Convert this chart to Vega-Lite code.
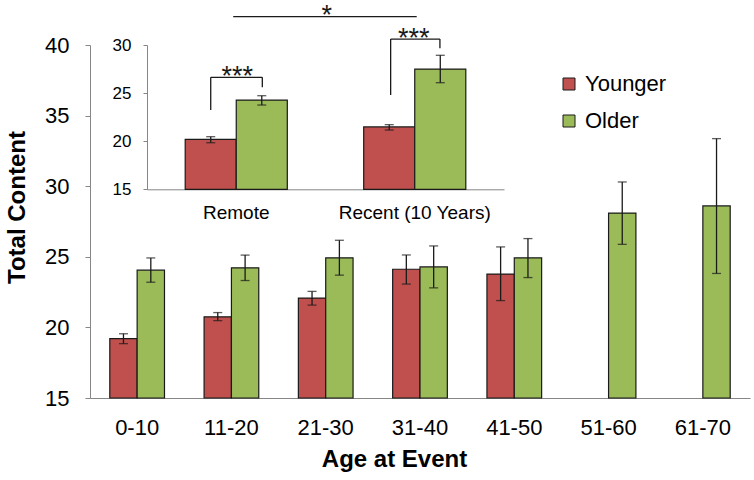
{
  "$schema": "https://vega.github.io/schema/vega-lite/v6.json",
  "width": 660,
  "height": 353,
  "autosize": {"type": "none"},
  "padding": {"left": 90, "top": 45, "right": 4, "bottom": 82},
  "background": "white",
  "config": {
    "font": "Liberation Sans",
    "view": {"stroke": null},
    "axis": {"domainColor": "#868686", "tickColor": "#868686", "labelColor": "#000", "titleColor": "#000", "grid": false, "labelFont": "Liberation Sans", "titleFont": "Liberation Sans"}
  },
  "datasets": {
    "main": [
      {"cat": "0-10", "grp": "Younger", "v": 19.2, "lo": 18.85, "hi": 19.55},
      {"cat": "0-10", "grp": "Older", "v": 24.05, "lo": 23.2, "hi": 24.92},
      {"cat": "11-20", "grp": "Younger", "v": 20.75, "lo": 20.48, "hi": 21.05},
      {"cat": "11-20", "grp": "Older", "v": 24.22, "lo": 23.32, "hi": 25.12},
      {"cat": "21-30", "grp": "Younger", "v": 22.08, "lo": 21.58, "hi": 22.55},
      {"cat": "21-30", "grp": "Older", "v": 24.93, "lo": 23.7, "hi": 26.17},
      {"cat": "31-40", "grp": "Younger", "v": 24.12, "lo": 23.07, "hi": 25.13},
      {"cat": "31-40", "grp": "Older", "v": 24.28, "lo": 22.8, "hi": 25.77},
      {"cat": "41-50", "grp": "Younger", "v": 23.78, "lo": 21.9, "hi": 25.7},
      {"cat": "41-50", "grp": "Older", "v": 24.93, "lo": 23.53, "hi": 26.29},
      {"cat": "51-60", "grp": "Older", "v": 28.1, "lo": 25.88, "hi": 30.3},
      {"cat": "61-70", "grp": "Older", "v": 28.6, "lo": 23.82, "hi": 33.37}
    ],
    "inset": [
      {"cat": "Remote", "grp": "Younger", "v": 20.2, "lo": 19.84, "hi": 20.47},
      {"cat": "Remote", "grp": "Older", "v": 24.28, "lo": 23.76, "hi": 24.73},
      {"cat": "Recent (10 Years)", "grp": "Younger", "v": 21.48, "lo": 21.16, "hi": 21.72},
      {"cat": "Recent (10 Years)", "grp": "Older", "v": 27.5, "lo": 26.08, "hi": 28.93}
    ],
    "segs": [
      {"x": 0.357, "x2": 0.357, "y": 23.24, "y2": 26.64},
      {"x": 0.357, "x2": 0.646, "y": 26.64, "y2": 26.64},
      {"x": 0.646, "x2": 0.646, "y": 26.64, "y2": 25.6},
      {"x": 1.365, "x2": 1.365, "y": 24.8, "y2": 30.62},
      {"x": 1.365, "x2": 1.641, "y": 30.62, "y2": 30.62},
      {"x": 1.641, "x2": 1.641, "y": 30.62, "y2": 29.66},
      {"x": 0.483, "x2": 1.511, "y": 32.94, "y2": 32.94}
    ],
    "stars": [
      {"x": 0.506, "y": 25.82, "label": "***"},
      {"x": 1.494, "y": 29.79, "label": "***"},
      {"x": 1.007, "y": 32.2, "label": "*"}
    ]
  },
  "layer": [
    {
      "data": {"name": "main"},
      "layer": [
        {
          "mark": {"type": "bar", "stroke": "#1a1a1a", "strokeWidth": 1.2},
          "encoding": {
            "x": {"field": "cat", "type": "nominal", "sort": null,
              "scale": {"paddingInner": 0.42, "paddingOuter": 0.21},
              "axis": {"orient": "bottom", "labelAngle": 0, "ticks": false, "tickSize": 0, "labelPadding": 19, "labelFontSize": 22,
                "title": "Age at Event", "titleFontSize": 24, "titleFontWeight": "bold", "titleX": 304, "titleY": 68.7, "titleBaseline": "alphabetic", "titleAlign": "center"}},
            "xOffset": {"field": "grp", "type": "nominal", "sort": ["Younger", "Older"]},
            "y": {"field": "v", "type": "quantitative",
              "scale": {"domain": [15, 40], "nice": false, "zero": false},
              "axis": {"orient": "left", "values": [15, 20, 25, 30, 35, 40], "tickSize": 5, "labelPadding": 16, "labelFontSize": 22,
                "title": "Total Content", "titleFontSize": 24, "titleFontWeight": "bold", "titleX": -66, "titleY": 162, "titleAngle": 270, "titleBaseline": "alphabetic", "titleAlign": "center"}},
            "y2": {"datum": 15},
            "color": {"field": "grp", "type": "nominal",
              "scale": {"domain": ["Younger", "Older"], "range": ["#C0504D", "#9BBB59"]},
              "legend": {"orient": "none", "legendX": 468, "legendY": 28, "direction": "vertical", "title": null, "padding": 0,
                "symbolType": "square", "symbolSize": 144, "symbolStrokeColor": "#333", "symbolStrokeWidth": 1, "symbolOpacity": 1,
                "labelFontSize": 22, "labelOffset": 5, "rowPadding": 15, "labelColor": "#000"}}
          }
        },
        {
          "mark": {"type": "rule", "color": "#1a1a1a", "strokeWidth": 1.3},
          "encoding": {
            "x": {"field": "cat", "type": "nominal", "sort": null},
            "xOffset": {"field": "grp", "type": "nominal", "sort": ["Younger", "Older"]},
            "y": {"field": "lo", "type": "quantitative"},
            "y2": {"field": "hi"}
          }
        },
        {
          "mark": {"type": "tick", "color": "#1a1a1a", "thickness": 1.3, "size": 9, "orient": "horizontal"},
          "encoding": {
            "x": {"field": "cat", "type": "nominal", "sort": null},
            "xOffset": {"field": "grp", "type": "nominal", "sort": ["Younger", "Older"]},
            "y": {"field": "lo", "type": "quantitative"}
          }
        },
        {
          "mark": {"type": "tick", "color": "#1a1a1a", "thickness": 1.3, "size": 9, "orient": "horizontal"},
          "encoding": {
            "x": {"field": "cat", "type": "nominal", "sort": null},
            "xOffset": {"field": "grp", "type": "nominal", "sort": ["Younger", "Older"]},
            "y": {"field": "hi", "type": "quantitative"}
          }
        }
      ]
    },
    {
      "data": {"name": "inset"},
      "layer": [
        {
          "mark": {"type": "bar", "stroke": "#1a1a1a", "strokeWidth": 1.2},
          "encoding": {
            "x": {"field": "cat", "type": "nominal", "sort": null,
              "scale": {"range": [57, 414], "paddingInner": 0.428, "paddingOuter": 0.214},
              "axis": {"orient": "bottom", "offset": -208.7, "labelAngle": 0, "ticks": false, "tickSize": 0, "labelPadding": 14, "labelFontSize": 19, "title": null}},
            "xOffset": {"field": "grp", "type": "nominal", "sort": ["Younger", "Older"]},
            "y": {"field": "v", "type": "quantitative",
              "scale": {"domain": [15, 30], "range": [144.3, 0], "nice": false, "zero": false},
              "axis": {"orient": "left", "offset": -57, "values": [15, 20, 25, 30], "tickSize": 4, "labelPadding": 12, "labelFontSize": 17, "title": null}},
            "y2": {"datum": 15},
            "color": {"field": "grp", "type": "nominal", "scale": {"domain": ["Younger", "Older"], "range": ["#C0504D", "#9BBB59"]}}
          }
        },
        {
          "mark": {"type": "rule", "color": "#1a1a1a", "strokeWidth": 1.3},
          "encoding": {
            "x": {"field": "cat", "type": "nominal", "sort": null},
            "xOffset": {"field": "grp", "type": "nominal", "sort": ["Younger", "Older"]},
            "y": {"field": "lo", "type": "quantitative"},
            "y2": {"field": "hi"}
          }
        },
        {
          "mark": {"type": "tick", "color": "#1a1a1a", "thickness": 1.3, "size": 9, "orient": "horizontal"},
          "encoding": {
            "x": {"field": "cat", "type": "nominal", "sort": null},
            "xOffset": {"field": "grp", "type": "nominal", "sort": ["Younger", "Older"]},
            "y": {"field": "lo", "type": "quantitative"}
          }
        },
        {
          "mark": {"type": "tick", "color": "#1a1a1a", "thickness": 1.3, "size": 9, "orient": "horizontal"},
          "encoding": {
            "x": {"field": "cat", "type": "nominal", "sort": null},
            "xOffset": {"field": "grp", "type": "nominal", "sort": ["Younger", "Older"]},
            "y": {"field": "hi", "type": "quantitative"}
          }
        }
      ]
    },
    {
      "layer": [
        {
          "data": {"name": "segs"},
          "mark": {"type": "rule", "color": "#1a1a1a", "strokeWidth": 1.3, "clip": false},
          "encoding": {
            "x": {"field": "x", "type": "quantitative", "scale": {"domain": [0, 2], "range": [57, 414], "nice": false, "zero": false}, "axis": null},
            "x2": {"field": "x2"},
            "y": {"field": "y", "type": "quantitative", "scale": {"domain": [15, 30], "range": [144.3, 0], "nice": false, "zero": false}, "axis": null},
            "y2": {"field": "y2"}
          }
        },
        {
          "data": {"name": "stars"},
          "mark": {"type": "text", "font": "Liberation Sans", "fontSize": 27, "align": "center", "baseline": "alphabetic", "color": "#1a1a1a", "clip": false},
          "encoding": {
            "x": {"field": "x", "type": "quantitative"},
            "y": {"field": "y", "type": "quantitative"},
            "text": {"field": "label"}
          }
        }
      ]
    }
  ],
  "resolve": {"scale": {"x": "independent", "y": "independent", "xOffset": "independent"}}
}
